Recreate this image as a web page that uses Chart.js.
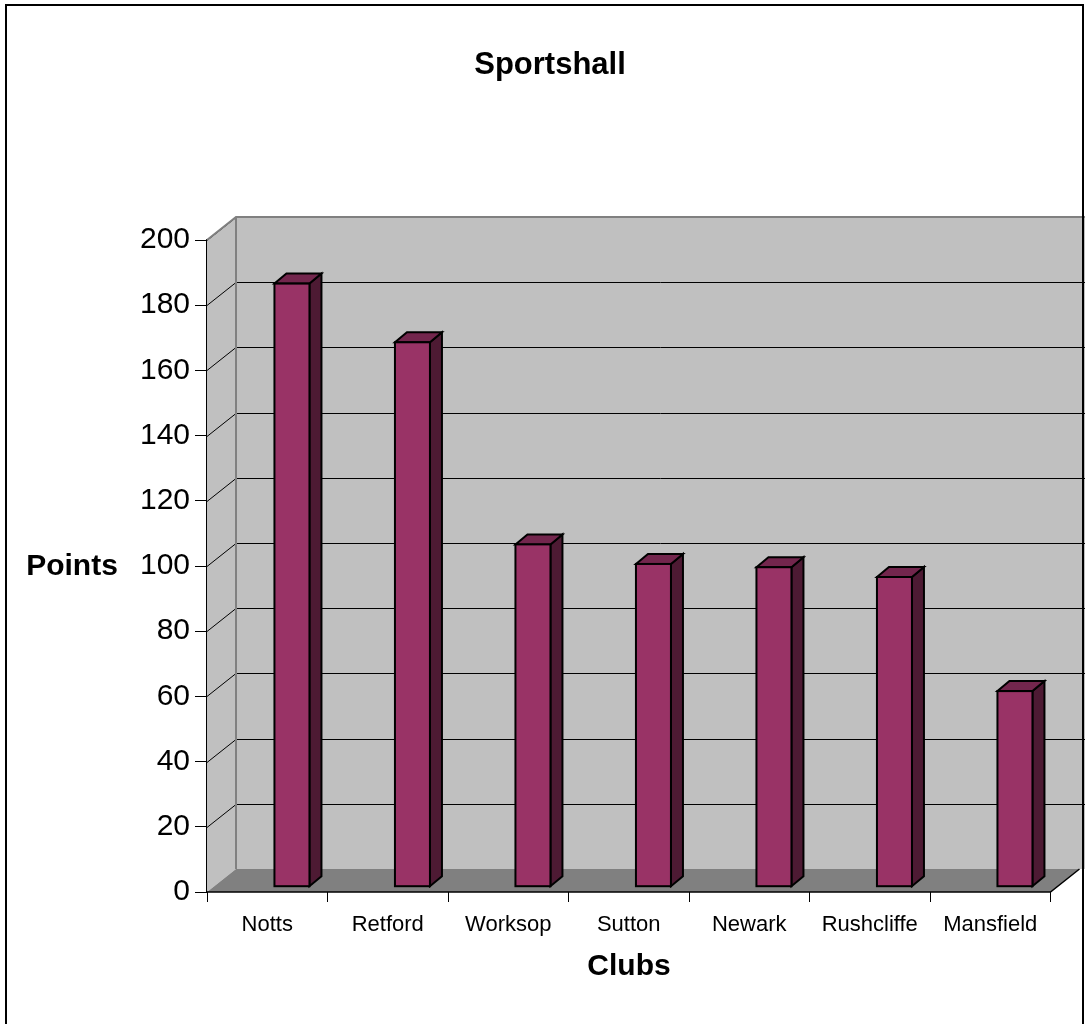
<!DOCTYPE html>
<html>
<head>
<meta charset="utf-8">
<title>Sportshall</title>
<script src="https://cdn.jsdelivr.net/npm/chart.js@4"></script>
<style>
    body { margin: 0; background: #fff; }
    #wrap { width: 1085px; height: 1024px; }
</style>
</head>
<body>
<div id="wrap"><canvas id="sportsChart" width="1085" height="1024"></canvas></div>
<script>
// ========================================
// SPORTSHALL - 3D COLUMN CHART
// ========================================

const clubs = ['Notts', 'Retford', 'Worksop', 'Sutton', 'Newark', 'Rushcliffe', 'Mansfield'];
const points = [185, 167, 105, 99, 98, 95, 60];
const yTicks = [0, 20, 40, 60, 80, 100, 120, 140, 160, 180, 200];

const FONT = '"Liberation Sans", Arial, sans-serif';

// depth of walls / bars (pixels)
const WALL_DX = 29, WALL_DY = -23;
const BAR_SHIFT_X = 24.7, BAR_SHIFT_Y = -5.3;
const BAR_DX = 12, BAR_DY = -10;

const wallPlugin = {
    id: 'wall3d',
    beforeDatasetsDraw(chart) {
        const ctx = chart.ctx;
        const area = chart.chartArea;
        const y = chart.scales.y;
        const W = chart.width;
        ctx.save();

        // left side wall
        ctx.fillStyle = '#c0c0c0';
        ctx.beginPath();
        ctx.moveTo(area.left, area.top);
        ctx.lineTo(area.left + WALL_DX, area.top + WALL_DY);
        ctx.lineTo(area.left + WALL_DX, area.bottom + WALL_DY);
        ctx.lineTo(area.left, area.bottom);
        ctx.closePath();
        ctx.fill();

        // back wall
        ctx.fillRect(area.left + WALL_DX, area.top + WALL_DY, W - area.left - WALL_DX, area.bottom - area.top);

        // floor
        ctx.fillStyle = '#808080';
        ctx.beginPath();
        ctx.moveTo(area.left, area.bottom);
        ctx.lineTo(area.left + WALL_DX, area.bottom + WALL_DY);
        ctx.lineTo(W, area.bottom + WALL_DY);
        ctx.lineTo(area.right + WALL_DX, area.bottom + WALL_DY);
        ctx.lineTo(area.right, area.bottom);
        ctx.closePath();
        ctx.fill();

        // gridlines on back wall and side wall
        ctx.strokeStyle = '#000';
        ctx.lineWidth = 1;
        yTicks.forEach(v => {
            if (v === 0) return;
            const py = Math.round(y.getPixelForValue(v)) + 0.5;
            ctx.beginPath();
            ctx.moveTo(area.left, py);
            ctx.lineTo(area.left + WALL_DX, py + WALL_DY);
            ctx.lineTo(W, py + WALL_DY);
            ctx.stroke();
        });

        // wall edges
        ctx.strokeStyle = '#808080';
        ctx.lineWidth = 2;
        ctx.beginPath();
        ctx.moveTo(area.left, area.top);
        ctx.lineTo(area.left + WALL_DX, area.top + WALL_DY);
        ctx.lineTo(W, area.top + WALL_DY);
        ctx.moveTo(area.left + WALL_DX, area.top + WALL_DY);
        ctx.lineTo(area.left + WALL_DX, area.bottom + WALL_DY);
        ctx.stroke();

        // front floor edge
        ctx.strokeStyle = '#000';
        ctx.lineWidth = 1.5;
        ctx.beginPath();
        ctx.moveTo(area.left, area.bottom);
        ctx.lineTo(area.right, area.bottom);
        ctx.lineTo(area.right + WALL_DX, area.bottom + WALL_DY);
        ctx.stroke();
        ctx.restore();
    },
    afterDatasetsDraw(chart) {
        const ctx = chart.ctx;
        const meta = chart.getDatasetMeta(0);
        ctx.save();
        ctx.lineWidth = 2;
        ctx.strokeStyle = '#000';
        ctx.lineJoin = 'miter';
        meta.data.forEach(bar => {
            const w = bar.width;
            const x0 = bar.x + BAR_SHIFT_X - w / 2;
            const x1 = x0 + w;
            const top = bar.y + BAR_SHIFT_Y;
            const bot = bar.base + BAR_SHIFT_Y;

            // side face
            ctx.fillStyle = '#4d1a33';
            ctx.beginPath();
            ctx.moveTo(x1, top);
            ctx.lineTo(x1 + BAR_DX, top + BAR_DY);
            ctx.lineTo(x1 + BAR_DX, bot + BAR_DY);
            ctx.lineTo(x1, bot);
            ctx.closePath();
            ctx.fill();
            ctx.stroke();

            // top face
            ctx.fillStyle = '#73264d';
            ctx.beginPath();
            ctx.moveTo(x0, top);
            ctx.lineTo(x0 + BAR_DX, top + BAR_DY);
            ctx.lineTo(x1 + BAR_DX, top + BAR_DY);
            ctx.lineTo(x1, top);
            ctx.closePath();
            ctx.fill();
            ctx.stroke();

            // front face
            ctx.fillStyle = '#993366';
            ctx.fillRect(x0, top, w, bot - top);
            ctx.strokeRect(x0, top, w, bot - top);
        });
        ctx.restore();
    },
    afterDraw(chart) {
        const ctx = chart.ctx;
        ctx.save();
        ctx.fillStyle = '#000';
        ctx.textAlign = 'center';
        ctx.textBaseline = 'middle';
        ctx.font = 'bold 31px ' + FONT;
        ctx.fillText('Sportshall', 550, 65);
        ctx.font = 'bold 30px ' + FONT;
        ctx.fillText('Points', 72, 567);
        ctx.fillText('Clubs', 629, 967);

        // outer border
        ctx.strokeStyle = '#000';
        ctx.lineWidth = 2;
        ctx.strokeRect(6, 5, 1077, 1030);
        ctx.restore();
    }
};

const ctx = document.getElementById('sportsChart').getContext('2d');
const sportsChart = new Chart(ctx, {
    type: 'bar',
    data: {
        labels: clubs,
        datasets: [{
            label: 'Points',
            data: points,
            backgroundColor: 'rgba(0,0,0,0)',
            borderWidth: 0,
            barThickness: 35
        }]
    },
    options: {
        responsive: false,
        animation: false,
        devicePixelRatio: 1,
        layout: {
            padding: { top: 240, right: 34.5, left: 0, bottom: 0 }
        },
        plugins: {
            legend: { display: false },
            tooltip: { enabled: false },
            title: { display: false }
        },
        scales: {
            x: {
                afterFit: function(scale) { scale.height = 132; },
                grid: {
                    display: true,
                    drawOnChartArea: false,
                    drawTicks: true,
                    tickLength: 10,
                    color: '#000',
                    offset: true
                },
                border: { display: false },
                ticks: {
                    color: '#000',
                    padding: 10,
                    font: { family: FONT, size: 22 }
                }
            },
            y: {
                min: 0,
                max: 200,
                afterFit: function(scale) { scale.width = 207; },
                afterBuildTicks: function(scale) {
                    scale.ticks = yTicks.map(v => ({ value: v }));
                },
                grid: {
                    display: true,
                    drawOnChartArea: false,
                    drawTicks: true,
                    tickLength: 12,
                    color: '#000'
                },
                border: { display: true, color: '#000', width: 1.5 },
                ticks: {
                    color: '#000',
                    padding: 5,
                    font: { family: FONT, size: 30 }
                }
            }
        }
    },
    plugins: [wallPlugin]
});
</script>
</body>
</html>
